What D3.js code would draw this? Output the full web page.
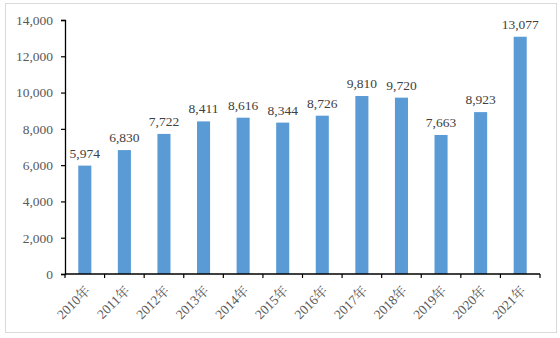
<!DOCTYPE html>
<html>
<head>
<meta charset="utf-8">
<script src="https://cdn.jsdelivr.net/npm/d3@7"></script>
<style>
  html, body { margin: 0; padding: 0; background: #fff; }
  svg { display: block; }
</style>
</head>
<body>
<svg id="chart" width="560" height="338"></svg>
<script>
// Annual values, 2010–2021
const years = ["2010年", "2011年", "2012年", "2013年", "2014年", "2015年",
               "2016年", "2017年", "2018年", "2019年", "2020年", "2021年"];
const values = [5974, 6830, 7722, 8411, 8616, 8344, 8726, 9810, 9720, 7663, 8923, 13077];
const yTicks = [0, 2000, 4000, 6000, 8000, 10000, 12000, 14000];

const svg = d3.select("#chart");
const fontFamily = "'Liberation Serif', 'Times New Roman', 'Noto Serif CJK SC', serif";

// Outer frame
svg.append("rect")
  .attr("x", 5.5).attr("y", 3.5)
  .attr("width", 551).attr("height", 329)
  .attr("fill", "#fff")
  .attr("stroke", "#d9d9d9")
  .attr("stroke-width", 1);

const plot = { left: 65, right: 540, top: 20, bottom: 274 };

const x = d3.scaleBand().domain(years).range([plot.left, plot.right]).paddingInner(0.67).paddingOuter(0.335);
const y = d3.scaleLinear().domain([0, 14000]).range([plot.bottom, plot.top]);

// Bars
svg.append("g").selectAll("rect")
  .data(values)
  .join("rect")
  .attr("x", (d, i) => x(years[i]))
  .attr("y", d => y(d))
  .attr("width", x.bandwidth())
  .attr("height", d => y(0) - y(d))
  .attr("fill", "#5b9bd5");

// Value labels
svg.append("g").selectAll("text")
  .data(values)
  .join("text")
  .attr("x", (d, i) => x(years[i]) + x.bandwidth() / 2)
  .attr("y", d => y(d) - 8)
  .attr("text-anchor", "middle")
  .attr("font-family", fontFamily)
  .attr("font-size", 13.5)
  .attr("fill", "#404040")
  .text(d => d3.format(",")(d));

// Y axis
const yAxis = svg.append("g")
  .attr("transform", `translate(${plot.left},0)`)
  .call(d3.axisLeft(y).tickValues(yTicks).tickFormat(d3.format(",")).tickSize(4).tickPadding(8));
yAxis.select(".domain").attr("stroke", "#000").attr("stroke-width", 1.3);
yAxis.selectAll(".tick line").attr("stroke", "#000").attr("stroke-width", 1.2);
yAxis.selectAll("text")
  .attr("font-family", fontFamily)
  .attr("font-size", 13.5)
  .attr("fill", "#595959");

// X axis with ticks at category boundaries
const xAxisG = svg.append("g").attr("transform", `translate(0,${plot.bottom})`);
xAxisG.append("line")
  .attr("x1", plot.left).attr("x2", plot.right)
  .attr("stroke", "#000").attr("stroke-width", 1.3);
const boundaries = years.map(d => x(d) - x.step() * x.paddingInner() / 2).concat([plot.right]);
xAxisG.selectAll("line.tk")
  .data(boundaries)
  .join("line")
  .attr("class", "tk")
  .attr("x1", d => d).attr("x2", d => d)
  .attr("y1", 0).attr("y2", 4)
  .attr("stroke", "#000").attr("stroke-width", 1.2);

xAxisG.selectAll("text")
  .data(years)
  .join("text")
  .attr("transform", d => `translate(${x(d) + x.bandwidth() / 2 + 3},${14}) rotate(-45)`)
  .attr("text-anchor", "end")
  .attr("dy", "0.35em")
  .attr("font-family", fontFamily)
  .attr("font-size", 13.5)
  .attr("fill", "#595959")
  .text(d => d);
</script>
</body>
</html>
